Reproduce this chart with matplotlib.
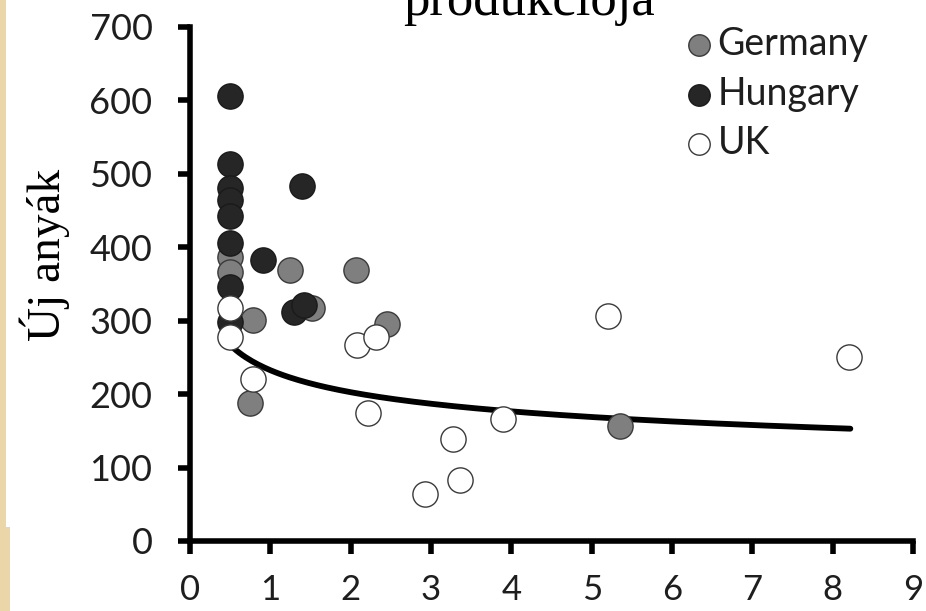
import numpy as np
import matplotlib
matplotlib.use("Agg")
import matplotlib.pyplot as plt
from matplotlib.patches import Rectangle

# ---- data ----
germany_x = [0.5, 0.5, 1.24, 2.07, 0.78, 1.52, 2.45, 0.75, 5.35]
germany_y = [387, 367, 369, 369, 301, 317, 296, 188, 157]

hungary_x = [0.5, 0.5, 0.5, 0.5, 0.5, 0.5, 0.5, 0.5, 0.91, 1.39, 1.29, 1.42]
hungary_y = [606, 513, 481, 464, 443, 406, 346, 298, 383, 483, 312, 322]

uk_x = [0.5, 0.5, 0.79, 2.08, 2.32, 2.22, 3.28, 3.9, 3.36, 2.93, 5.2, 8.2]
uk_y = [317, 278, 220, 267, 278, 175, 139, 166, 83, 64, 306, 250]

# power trendline y = a * x^b
trend_a = 232.6
trend_b = -0.199
trend_range = (0.5, 8.22)

x_ticks = [0, 1, 2, 3, 4, 5, 6, 7, 8, 9]
y_ticks = [0, 100, 200, 300, 400, 500, 600, 700]

title_text = "produkciója"
ylabel_text = "Új anyák"

W, H = 926, 611
fig = plt.figure(figsize=(W / 100, H / 100), dpi=100)
fig.patch.set_facecolor("white")

# parchment strip at left edge
fig.patches.append(Rectangle((0, 0), 6 / W, 1, transform=fig.transFigure,
                             facecolor="#ead6a8", edgecolor="none", zorder=0))
fig.patches.append(Rectangle((0, 0), 10 / W, (H - 527) / H, transform=fig.transFigure,
                             facecolor="#ead6a8", edgecolor="none", zorder=0))

ax = fig.add_axes([190 / W, (H - 541) / H, (913 - 190) / W, (541 - 27) / H])
ax.set_xlim(0, 9)
ax.set_ylim(0, 700)

xs = np.linspace(trend_range[0], trend_range[1], 200)
ax.plot(xs, trend_a * xs ** trend_b, color="black", lw=4.2, zorder=1,
        solid_capstyle="round")

ms = 330
ax.scatter(germany_x, germany_y, s=ms, c="#7f7f7f", edgecolors="#3a3a3a",
           linewidths=1.0, zorder=2, label="Germany", clip_on=False)
ax.scatter(hungary_x, hungary_y, s=ms, c="#262626", edgecolors="#1a1a1a",
           linewidths=1.0, zorder=3, label="Hungary", clip_on=False)
ax.scatter(uk_x, uk_y, s=ms, c="white", edgecolors="#3a3a3a",
           linewidths=1.0, zorder=4, label="UK", clip_on=False)

for s in ["top", "right"]:
    ax.spines[s].set_visible(False)
for s in ["left", "bottom"]:
    ax.spines[s].set_linewidth(4.0)
    ax.spines[s].set_color("black")

ax.set_xticks(x_ticks)
ax.set_yticks(y_ticks)
ax.tick_params(axis="both", direction="out", length=9, width=4, color="black",
               labelsize=26, labelcolor="#1e1e1e")
ax.tick_params(axis="x", pad=15, labelsize=25)
ax.tick_params(axis="y", pad=18)
for lab in ax.get_xticklabels() + ax.get_yticklabels():
    lab.set_family("Lato")

fig.text(45 / W, 1 - 255 / H, ylabel_text, rotation=90, ha="center", va="center",
         fontsize=34, family="Liberation Serif", color="black")

fig.text(529 / W, 1 - 15 / H, title_text, ha="center", va="baseline",
         fontsize=38, family="Liberation Serif", color="black")

leg = ax.legend(loc="upper left", bbox_to_anchor=(680 / W, 1 - 26 / H),
                bbox_transform=fig.transFigure, frameon=False,
                prop={"family": "Lato", "size": 27}, handletextpad=0.0,
                labelspacing=0.36, borderpad=0, borderaxespad=0,
                markerscale=0.85, handlelength=1.0)
for t in leg.get_texts():
    t.set_color("#1e1e1e")

fig.savefig("out.png", dpi=100)
